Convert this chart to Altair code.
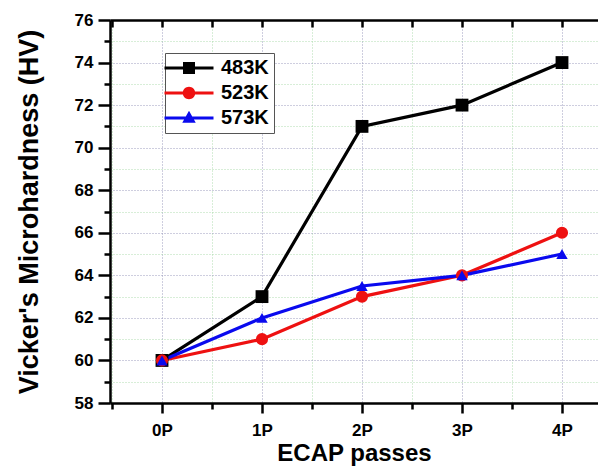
import altair as alt
import pandas as pd

# ---- data ----
passes = ["0P", "1P", "2P", "3P", "4P"]
pass_pos = [0, 1, 2, 3, 4]
series_names = ["483K", "523K", "573K"]
hv_483K = [60, 63, 71, 72, 74]
hv_523K = [60, 61, 63, 64, 66]
hv_573K = [60, 62, 63.5, 64, 65]

y_major = [58, 60, 62, 64, 66, 68, 70, 72, 74, 76]
y_minor = [59, 61, 63, 65, 67, 69, 71, 73, 75]
x_major = [0, 1, 2, 3, 4]
x_minor = [-0.5, 0.5, 1.5, 2.5, 3.5]

colors = ["#000000", "#ee1111", "#0a0aee"]
shapes = ["square", "circle", "triangle-up"]
marker_sizes = [165, 130, 170]

rows = []
for name, vals in zip(series_names, [hv_483K, hv_523K, hv_573K]):
    for p, lab, v in zip(pass_pos, passes, vals):
        rows.append({"series": name, "pos": p, "pass": lab, "hv": v})
df = pd.DataFrame(rows)

F = "Liberation Sans"
xs = alt.Scale(domain=[-0.52, 4.36], nice=False, zero=False)
ys = alt.Scale(domain=[58, 76], nice=False, zero=False)
label_expr = "[" + ",".join("'%s'" % p for p in passes) + "][datum.value]"

# legend symbols: line segment plus marker (custom paths)
ln = "M-4.9,-0.3H4.9V0.3H-4.9Z "
legend_paths = [
    ln + "M-1.2,-1.2H1.2V1.2H-1.2Z",
    ln + "M-1.25,0A1.25,1.25 0 1,1 1.25,0A1.25,1.25 0 1,1 -1.25,0Z",
    ln + "M0,-1.45L1.35,0.95H-1.35Z",
]

common_axis = dict(tickColor="black", domainColor="black", labelColor="black",
                   titleColor="black", labelFont=F, titleFont=F)

# layer: minor ticks and minor (green) grid
minor = alt.Chart(df).mark_point(opacity=0).encode(
    x=alt.X("pos:Q", scale=xs, axis=alt.Axis(
        orient="bottom", values=x_minor, labels=False, title=None, domain=False,
        tickSize=6, tickWidth=2.5, grid=True, gridColor="#9fd49f", gridDash=[1, 2],
        gridWidth=1, gridOpacity=0.8, **common_axis)),
    y=alt.Y("hv:Q", scale=ys, axis=alt.Axis(
        orient="left", values=y_minor, labels=False, title=None, domain=False,
        tickSize=6, tickWidth=2.5, grid=True, gridColor="#9fd49f", gridDash=[1, 2],
        gridWidth=1, gridOpacity=0.8, **common_axis)),
)

# layer: lines with main axes
lines = alt.Chart(df).mark_line(strokeWidth=3.2).encode(
    x=alt.X("pos:Q", scale=xs, axis=alt.Axis(
        orient="bottom", values=x_major, labelExpr=label_expr, title="ECAP passes",
        tickSize=10, tickWidth=2.5, domainWidth=2.5, labelFontSize=17,
        labelFontWeight="bold", labelPadding=9, labelFlush=False, labelOverlap=False,
        titleFontSize=24, titleFontWeight="bold", titlePadding=3,
        grid=True, gridColor="#8c8cb4", gridDash=[1, 2], gridWidth=1, gridOpacity=0.85,
        **common_axis)),
    y=alt.Y("hv:Q", scale=ys, axis=alt.Axis(
        orient="left", values=y_major, title="Vicker's Microhardness (HV)",
        tickSize=12, tickWidth=2.5, domainWidth=2.5, labelFontSize=17,
        labelFontWeight="bold", labelPadding=5, labelFlush=False, labelOverlap=False,
        titleFontSize=27, titleFontWeight="bold", titlePadding=31,
        grid=True, gridColor="#8c8cb4", gridDash=[1, 2], gridWidth=1, gridOpacity=0.85,
        **common_axis)),
    color=alt.Color("series:N", scale=alt.Scale(domain=series_names, range=colors), legend=None),
)

points = alt.Chart(df).mark_point(filled=True, opacity=1, strokeWidth=0).encode(
    x=alt.X("pos:Q", scale=xs, axis=None),
    y=alt.Y("hv:Q", scale=ys, axis=None),
    color=alt.Color("series:N", scale=alt.Scale(domain=series_names, range=colors), legend=None),
    shape=alt.Shape("series:N", scale=alt.Scale(domain=series_names, range=shapes), legend=None),
    size=alt.Size("series:N", scale=alt.Scale(domain=series_names, range=marker_sizes), legend=None),
)

# top frame line
top_line = alt.Chart(df).mark_point(opacity=0).encode(
    x=alt.X("pos:Q", scale=xs, axis=alt.Axis(
        orient="top", ticks=False, labels=False, title=None, grid=False,
        domainWidth=2.5, **common_axis)),
    y=alt.Y("hv:Q", scale=ys, axis=None),
)

# inward top ticks
top_ticks = alt.Chart(df).mark_point(opacity=0).encode(
    x=alt.X("pos:Q", scale=xs, axis=alt.Axis(
        orient="top", offset=-7, values=sorted(x_major + x_minor), domain=False,
        labels=False, title=None, grid=False, tickSize=7, tickWidth=2.5, **common_axis)),
    y=alt.Y("hv:Q", scale=ys, axis=None),
)

leg = dict(orient="none", legendX=55, legendY=33, title=None, labelFont=F,
           labelFontSize=20, labelFontWeight="bold", labelColor="black",
           strokeColor="#555555", fillColor="white", padding=5, symbolOffset=9,
           labelOffset=22, rowPadding=5, symbolOpacity=1, symbolStrokeWidth=0)

legend_layer = alt.Chart(df).mark_point(opacity=0, filled=True, size=100).encode(
    x=alt.X("pos:Q", scale=xs, axis=None),
    y=alt.Y("hv:Q", scale=ys, axis=None),
    color=alt.Color("series:N", scale=alt.Scale(domain=series_names, range=colors),
                    legend=alt.Legend(**leg)),
    shape=alt.Shape("series:N", scale=alt.Scale(domain=series_names, range=legend_paths),
                    legend=alt.Legend(**leg)),
)

chart = alt.layer(minor, lines, points, top_line, top_ticks, legend_layer).resolve_scale(
    color="independent", shape="independent", size="independent"
).resolve_axis(
    x="independent", y="independent"
).properties(
    width=488, height=383,
    padding={"left": 102, "top": 12, "right": 0, "bottom": 66},
    autosize=alt.AutoSizeParams(type="none"),
).configure_view(stroke=None).configure(background="white")

chart.save("out.html", embed_options={"renderer": "svg", "actions": False})
